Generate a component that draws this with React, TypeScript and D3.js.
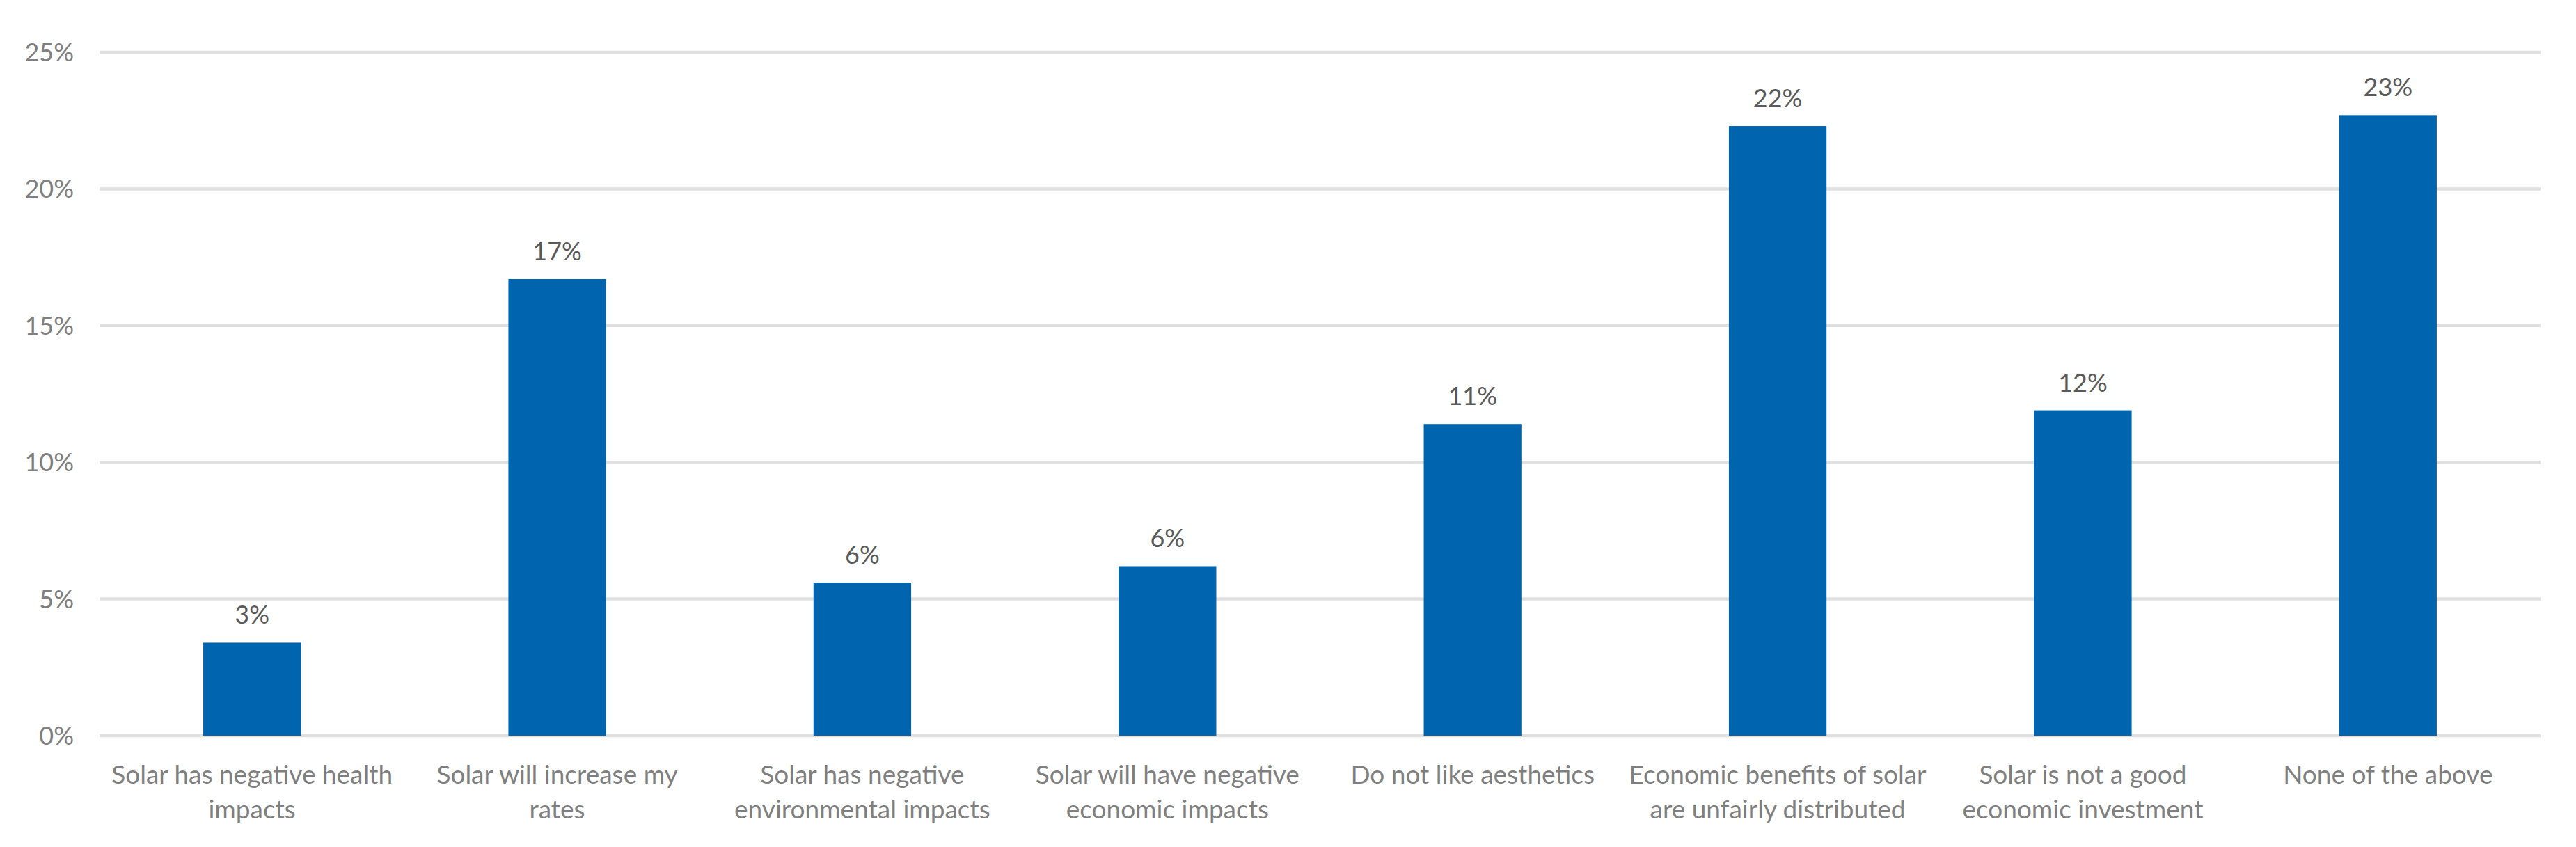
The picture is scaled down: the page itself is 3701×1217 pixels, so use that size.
import { useEffect, useRef } from "react";
import * as d3 from "d3";

const categories = [
  "Solar has negative health\nimpacts",
  "Solar will increase my\nrates",
  "Solar has negative\nenvironmental impacts",
  "Solar will have negative\neconomic impacts",
  "Do not like aesthetics",
  "Economic benefits of solar\nare unfairly distributed",
  "Solar is not a good\neconomic investment",
  "None of the above",
];

const shares = [3.4, 16.7, 5.6, 6.2, 11.4, 22.3, 11.9, 22.7];
const valueLabels = ["3%", "17%", "6%", "6%", "11%", "22%", "12%", "23%"];
const yTicks = [0, 5, 10, 15, 20, 25];

const W = 3701;
const H = 1217;
const FONT = "Lato, 'Open Sans', sans-serif";

const App = () => {
  const svgRef = useRef<SVGSVGElement | null>(null);

  useEffect(() => {
    document.body.style.margin = "0";
    const svg = d3.select(svgRef.current);
    svg.selectAll("*").remove();

    const left = 143;
    const right = 3650;
    const top = 75;
    const bottom = 1057;

    const x = d3
      .scaleBand()
      .domain(categories)
      .range([left, right])
      .paddingInner(0.68)
      .paddingOuter(0.34);

    const y = d3.scaleLinear().domain([0, 25]).range([bottom, top]);

    // gridlines
    svg
      .append("g")
      .selectAll("line")
      .data(yTicks)
      .enter()
      .append("line")
      .attr("x1", left)
      .attr("x2", right)
      .attr("y1", (d) => y(d))
      .attr("y2", (d) => y(d))
      .attr("stroke", "#e0e0e0")
      .attr("stroke-width", 4.5);

    // y tick labels
    svg
      .append("g")
      .selectAll("text")
      .data(yTicks)
      .enter()
      .append("text")
      .attr("x", left - 37)
      .attr("y", (d) => y(d))
      .attr("dy", "0.36em")
      .attr("text-anchor", "end")
      .attr("fill", "#7f7f7f")
      .style("font-family", FONT)
      .style("font-size", "36px")
      .text((d) => `${d}%`);

    // bars
    svg
      .append("g")
      .selectAll("rect")
      .data(shares)
      .enter()
      .append("rect")
      .attr("x", (_, i) => x(categories[i]) || 0)
      .attr("y", (d) => y(d))
      .attr("width", x.bandwidth())
      .attr("height", (d) => y(0) - y(d))
      .attr("fill", "#0064af");

    // value labels
    svg
      .append("g")
      .selectAll("text")
      .data(shares)
      .enter()
      .append("text")
      .attr("x", (_, i) => (x(categories[i]) || 0) + x.bandwidth() / 2)
      .attr("y", (d) => y(d) - 27)
      .attr("text-anchor", "middle")
      .attr("fill", "#595959")
      .style("font-family", FONT)
      .style("font-size", "36px")
      .text((_, i) => valueLabels[i]);

    // category labels
    const cat = svg
      .append("g")
      .selectAll("text")
      .data(categories)
      .enter()
      .append("text")
      .attr("x", (d) => (x(d) || 0) + x.bandwidth() / 2)
      .attr("y", 1126)
      .attr("text-anchor", "middle")
      .attr("fill", "#7f7f7f")
      .style("font-family", FONT)
      .style("font-size", "37px");

    cat
      .selectAll("tspan")
      .data((d) => d.split("\n").map((line) => ({ line, cx: (x(d) || 0) + x.bandwidth() / 2 })))
      .enter()
      .append("tspan")
      .attr("x", (d) => d.cx)
      .attr("dy", (_, i) => (i === 0 ? 0 : 50))
      .text((d) => d.line);
  });

  return (
    <svg
      ref={svgRef}
      width={W}
      height={H}
      style={{ display: "block", background: "#ffffff" }}
    />
  );
};

export default App;
